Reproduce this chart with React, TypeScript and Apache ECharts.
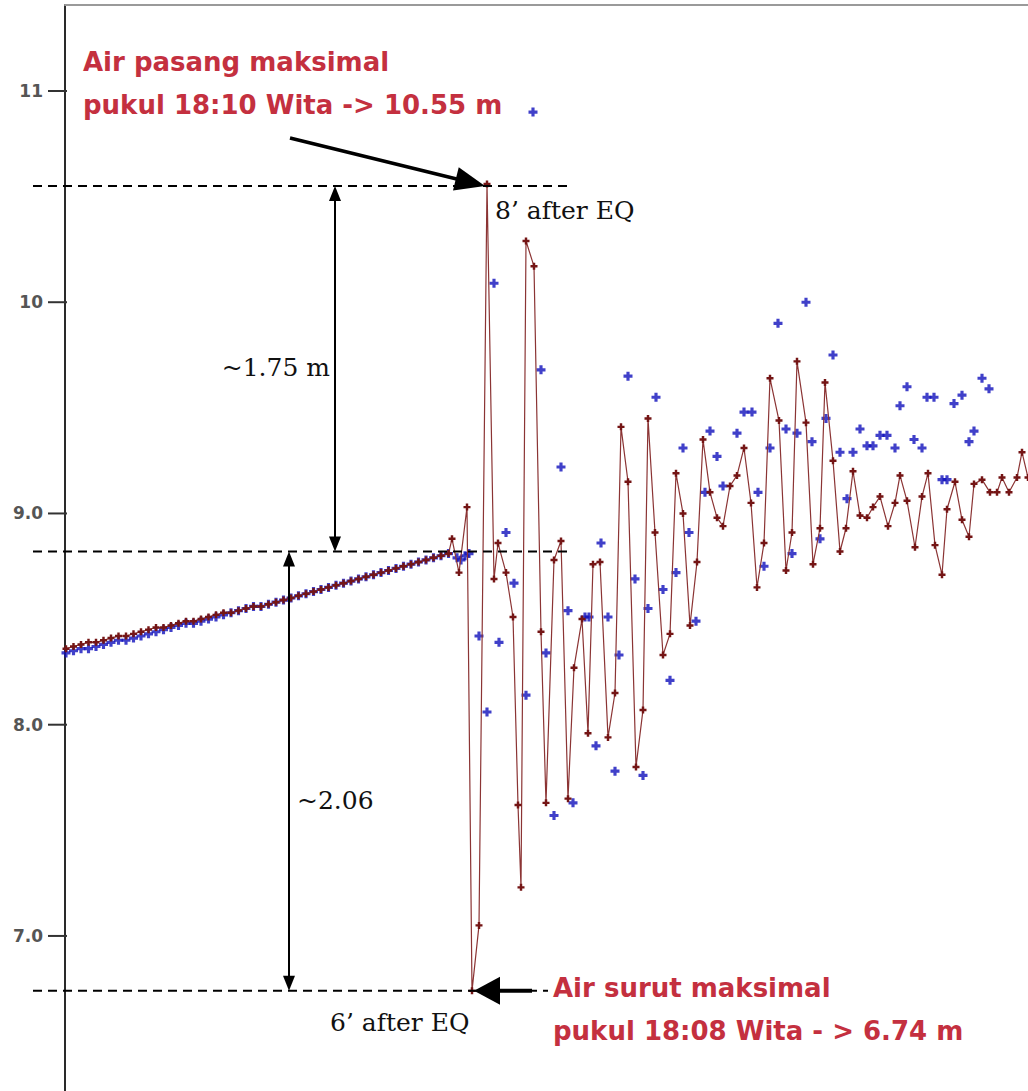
import React, { useEffect, useRef } from "react";
import * as echarts from "echarts";

// ---- axis ----
const yTickValues = [7, 8, 9, 10, 11];
const yTickLabels = ["7.0", "8.0", "9.0", "10", "11"];
const yMinValue = 6.266;
const yMaxValue = 11.407;
const xMinMinute = -76.2;
const xMaxMinute = 116.4;

// ---- data: minutes relative to the earthquake, water level (m) ----
const calmMinutes = [
  -76, -74.5, -73, -71.5, -70, -68.5, -67, -65.5, -64, -62.5,
  -61, -59.5, -58, -56.5, -55, -53.5, -52, -50.5, -49, -47.5,
  -46, -44.5, -43, -41.5, -40, -38.5, -37, -35.5, -34, -32.5,
  -31, -29.5, -28, -26.5, -25, -23.5, -22, -20.5, -19, -17.5,
  -16, -14.5, -13, -11.5, -10, -8.5, -7, -5.5, -4, -2.5,
  -1, 0.5,
];
const calmRed = [
  8.36, 8.37, 8.38, 8.39, 8.39, 8.40, 8.41, 8.42, 8.42, 8.43,
  8.44, 8.45, 8.46, 8.46, 8.47, 8.48, 8.49, 8.49, 8.50, 8.51,
  8.52, 8.53, 8.53, 8.54, 8.55, 8.56, 8.56, 8.57, 8.58, 8.59,
  8.60, 8.61, 8.62, 8.63, 8.64, 8.65, 8.66, 8.67, 8.68, 8.69,
  8.70, 8.71, 8.72, 8.73, 8.74, 8.75, 8.76, 8.77, 8.78, 8.79,
  8.80, 8.81,
];
const calmBlue = [
  8.34, 8.35, 8.36, 8.36, 8.37, 8.38, 8.39, 8.40, 8.40, 8.41,
  8.42, 8.43, 8.44, 8.45, 8.46, 8.47, 8.48, 8.48, 8.49, 8.50,
  8.51, 8.52, 8.53, 8.54, 8.55, 8.56, 8.56, 8.57, 8.58, 8.59,
  8.60, 8.61, 8.62, 8.63, 8.64, 8.65, 8.66, 8.67, 8.68, 8.69,
  8.70, 8.71, 8.72, 8.73, 8.74, 8.75, 8.76, 8.77, 8.78, 8.79,
  8.80, 8.81,
];

const burstRedMinutes = [
  1.2, 2.6, 4.2, 5.2, 6.6, 8.2, 9.6, 10.4, 12.0, 13.4,
  14.4, 15.0, 16.0, 17.6, 19.0, 20.0, 21.6, 23.0, 24.4, 25.6,
  27.2, 28.4, 29.4, 30.8, 32.4, 33.8, 35.0, 36.4, 38.0, 39.4,
  40.4, 41.8, 43.4, 44.8, 46.0, 47.4, 48.8, 50.2, 51.4, 52.8,
  54.2, 55.4, 56.8, 58.2, 59.6, 61.0, 62.2, 63.6, 64.8, 66.6,
  68.0, 69.2, 70.2, 72.0, 73.4, 74.8, 75.8, 77.4, 78.8, 80.0,
  81.4, 82.8, 84.2, 85.4, 86.8, 88.4, 89.8, 90.8, 92.2, 93.8,
  95.2, 96.4, 97.8, 99.2, 100.2, 101.8, 103.2, 104.6, 105.6, 107.2,
  108.8, 110.2, 111.2, 112.6, 114.2, 115.2, 116.4,
];
const burstRed = [
  8.88, 8.72, 9.03, 6.74, 7.05, 10.56, 8.69, 8.86, 8.72, 8.51,
  7.62, 7.23, 10.29, 10.17, 8.44, 7.63, 8.78, 8.87, 7.65, 8.27,
  8.50, 7.96, 8.76, 8.77, 7.94, 8.15, 9.41, 9.15, 7.80, 8.07,
  9.45, 8.91, 8.33, 8.43, 9.19, 9.00, 8.47, 8.77, 9.35, 9.10,
  8.98, 8.94, 9.13, 9.18, 9.31, 9.05, 8.65, 8.86, 9.64, 9.44,
  8.73, 8.91, 9.72, 9.43, 8.76, 8.93, 9.62, 9.25, 8.82, 8.93,
  9.20, 8.99, 8.98, 9.03, 9.08, 8.94, 9.05, 9.18, 9.06, 8.84,
  9.08, 9.19, 8.85, 8.71, 9.02, 9.15, 8.97, 8.89, 9.14, 9.16,
  9.10, 9.10, 9.17, 9.10, 9.17, 9.29, 9.17,
];

const burstBlueMinutes = [
  2.2, 3.0, 3.8, 4.6, 6.6, 8.2, 9.6, 10.6, 12.0, 13.6,
  16.0, 17.4, 19.0, 20.0, 21.6, 23.0, 24.4, 25.4, 27.8, 28.6,
  30.0, 31.0, 32.4, 33.8, 34.6, 36.4, 37.8, 39.4, 40.4, 42.0,
  43.4, 44.8, 46.0, 47.4, 48.6, 50.0, 51.8, 52.8, 54.2, 55.4,
  58.2, 59.6, 61.2, 62.4, 63.6, 64.8, 66.4, 68.0, 69.2, 70.2,
  72.0, 73.2, 74.8, 76.0, 77.4, 78.8, 80.2, 81.4, 82.8, 84.2,
  85.4, 86.8, 88.2, 89.8, 90.8, 92.2, 93.6, 95.2, 96.2, 97.6,
  99.2, 100.2, 101.6, 103.2, 104.6, 105.6, 107.2, 108.6,
];
const burstBlue = [
  8.79, 8.78, 8.80, 8.81, 8.42, 8.06, 10.09, 8.39, 8.91, 8.67,
  8.14, 10.90, 9.68, 8.34, 7.57, 9.22, 8.54, 7.63, 8.51, 8.51,
  7.90, 8.86, 8.51, 7.78, 8.33, 9.65, 8.69, 7.76, 8.55, 9.55,
  8.64, 8.21, 8.72, 9.31, 8.91, 8.49, 9.10, 9.39, 9.27, 9.13,
  9.38, 9.48, 9.48, 9.10, 8.75, 9.31, 9.90, 9.40, 8.81, 9.38,
  10.00, 9.34, 8.88, 9.45, 9.75, 9.29, 9.07, 9.29, 9.40, 9.32,
  9.32, 9.37, 9.37, 9.31, 9.51, 9.60, 9.35, 9.31, 9.55, 9.55,
  9.16, 9.16, 9.52, 9.56, 9.34, 9.39, 9.64, 9.59,
];

// ---- annotation values ----
const peakMinute = 8.2;
const peakLevel = 10.55;
const troughMinute = 5.2;
const troughLevel = 6.74;
const baseLevel = 8.82;
const highText = ["Air pasang maksimal", "pukul 18:10 Wita -> 10.55 m"];
const lowText = ["Air surut maksimal", "pukul 18:08 Wita - > 6.74 m"];
const riseText = "~1.75 m";
const dropText = "~2.06";
const peakNote = "8\u2019 after EQ";
const troughNote = "6\u2019 after EQ";

const GRID_LEFT = 65;
const PLUS = "path://M2.6,0H5.4V2.6H8V5.4H5.4V8H2.6V5.4H0V2.6H2.6Z";
const RED_TXT = "#c4303f";

function zip(a: number[], b: number[]) {
  return a.map((t, i) => [t, b[i]]);
}

function arrowHead(tipX: number, tipY: number, fromX: number, fromY: number, len: number, half: number) {
  const dx = tipX - fromX;
  const dy = tipY - fromY;
  const d = Math.sqrt(dx * dx + dy * dy);
  const ux = dx / d;
  const uy = dy / d;
  const bx = tipX - ux * len;
  const by = tipY - uy * len;
  return [
    [tipX, tipY],
    [bx - uy * half, by + ux * half],
    [bx + uy * half, by - ux * half],
  ];
}

export default function App() {
  const ref = useRef<HTMLDivElement>(null);
  useEffect(() => {
    if (!ref.current) return;
    const chart = echarts.init(ref.current, undefined, { renderer: "svg" });
    chart.setOption({
      animation: false,
      backgroundColor: "#ffffff",
      grid: { left: GRID_LEFT, top: 5, right: 0, bottom: 0, containLabel: false },
      xAxis: {
        type: "value",
        min: xMinMinute,
        max: xMaxMinute,
        position: "top",
        axisLine: { show: true, onZero: false, lineStyle: { color: "#9a9a9a", width: 2 } },
        axisTick: { show: false },
        axisLabel: { show: false },
        splitLine: { show: false },
      },
      yAxis: {
        type: "value",
        min: yMinValue,
        max: yMaxValue,
        position: "left",
        axisLine: { show: true, onZero: false, lineStyle: { color: "#2a2a2a", width: 2 } },
        axisTick: { show: false },
        axisLabel: {
          show: true,
          customValues: yTickValues.slice(),
          margin: 22,
          color: "#555",
          fontFamily: "DejaVu Sans",
          fontWeight: "bold",
          fontSize: 17,
          formatter: (v: number) => {
            const i = yTickValues.findIndex((t) => Math.abs(t - v) < 1e-6);
            return i >= 0 ? yTickLabels[i] : "";
          },
        },
        splitLine: { show: false },
      },
      series: [
        {
          type: "scatter",
          name: "blue",
          data: zip(calmMinutes.concat(burstBlueMinutes), calmBlue.concat(burstBlue)),
          symbol: PLUS,
          symbolSize: 9,
          itemStyle: { color: "#1010bb" },
          z: 2,
        },
        {
          type: "line",
          name: "red",
          data: zip(calmMinutes.concat(burstRedMinutes), calmRed.concat(burstRed)),
          symbol: PLUS,
          symbolSize: 7,
          showAllSymbol: true,
          itemStyle: { color: "#741515" },
          lineStyle: { color: "#8b3434", width: 1.2 },
          z: 3,
        },
      ],
    });

    const px = (t: number, v: number) => chart.convertToPixel({ gridIndex: 0 }, [t, v]) as number[];
    const yPeak = px(0, peakLevel)[1];
    const yBase = px(0, baseLevel)[1];
    const yTrough = px(0, troughLevel)[1];
    const xPeak = px(peakMinute, peakLevel)[0];
    const xTrough = px(troughMinute, troughLevel)[0];

    const g: any[] = [];
    const dash = { stroke: "#000", lineWidth: 2, lineDash: [9, 6] };
    const solid = { stroke: "#000", lineWidth: 2 };
    g.push({ type: "line", shape: { x1: 33, y1: yPeak, x2: 567, y2: yPeak }, style: dash, z: 10 });
    g.push({ type: "line", shape: { x1: 33, y1: yBase, x2: 567, y2: yBase }, style: dash, z: 10 });
    g.push({ type: "line", shape: { x1: 33, y1: yTrough, x2: 548, y2: yTrough }, style: dash, z: 10 });

    // y-axis tick marks (outside), reaching just across the axis line
    yTickLabels.forEach((lab) => {
      const ty = px(0, parseFloat(lab))[1];
      g.push({
        type: "line",
        shape: { x1: GRID_LEFT - 17, y1: ty, x2: GRID_LEFT + 2, y2: ty },
        style: { stroke: "#333333", lineWidth: 2 },
        z: 10,
      });
    });

    // double arrow 1
    const ax1 = 335;
    g.push({ type: "line", shape: { x1: ax1, y1: yPeak + 10, x2: ax1, y2: yBase - 10 }, style: solid, z: 10 });
    g.push({ type: "polygon", shape: { points: arrowHead(ax1, yPeak, ax1, yBase, 15, 6) }, style: { fill: "#000" }, z: 10 });
    g.push({ type: "polygon", shape: { points: arrowHead(ax1, yBase, ax1, yPeak, 15, 6) }, style: { fill: "#000" }, z: 10 });
    // double arrow 2
    const ax2 = 289;
    g.push({ type: "line", shape: { x1: ax2, y1: yBase + 10, x2: ax2, y2: yTrough - 10 }, style: solid, z: 10 });
    g.push({ type: "polygon", shape: { points: arrowHead(ax2, yBase, ax2, yTrough, 15, 6) }, style: { fill: "#000" }, z: 10 });
    g.push({ type: "polygon", shape: { points: arrowHead(ax2, yTrough, ax2, yBase, 15, 6) }, style: { fill: "#000" }, z: 10 });

    // diagonal arrow to peak
    const sx = 290, sy = 138;
    const tipX = xPeak - 2, tipY = yPeak;
    const head1 = arrowHead(tipX, tipY, sx, sy, 30, 12);
    const dd = Math.hypot(tipX - sx, tipY - sy);
    g.push({
      type: "line",
      shape: { x1: sx, y1: sy, x2: tipX - ((tipX - sx) / dd) * 25, y2: tipY - ((tipY - sy) / dd) * 25 },
      style: { stroke: "#000", lineWidth: 3.5 },
      z: 10,
    });
    g.push({ type: "polygon", shape: { points: head1 }, style: { fill: "#000" }, z: 10 });

    // arrow to trough
    const tx = xTrough + 2;
    g.push({ type: "line", shape: { x1: tx + 20, y1: yTrough, x2: tx + 58, y2: yTrough }, style: { stroke: "#000", lineWidth: 4 }, z: 10 });
    g.push({ type: "polygon", shape: { points: arrowHead(tx, yTrough, tx + 50, yTrough, 26, 14) }, style: { fill: "#000" }, z: 10 });

    const redFont = 'bold 26px "DejaVu Sans"';
    g.push({ type: "text", style: { text: highText[0], x: 83, y: 62, font: redFont, fill: RED_TXT, verticalAlign: "middle" }, z: 11 });
    g.push({ type: "text", style: { text: highText[1], x: 83, y: 105, font: redFont, fill: RED_TXT, verticalAlign: "middle" }, z: 11 });
    g.push({ type: "text", style: { text: lowText[0], x: 553, y: yTrough - 3, font: redFont, fill: RED_TXT, verticalAlign: "middle" }, z: 11 });
    g.push({ type: "text", style: { text: lowText[1], x: 553, y: yTrough + 40, font: redFont, fill: RED_TXT, verticalAlign: "middle" }, z: 11 });

    const serif = '25px "DejaVu Serif"';
    g.push({ type: "text", style: { text: riseText, x: 330, y: 367, font: serif, fill: "#111", align: "right", verticalAlign: "middle" }, z: 11 });
    g.push({ type: "text", style: { text: dropText, x: 297, y: 800, font: serif, fill: "#111", verticalAlign: "middle" }, z: 11 });
    g.push({ type: "text", style: { text: peakNote, x: 495, y: 210, font: serif, fill: "#111", verticalAlign: "middle" }, z: 11 });
    g.push({ type: "text", style: { text: troughNote, x: 330, y: 1022, font: serif, fill: "#111", verticalAlign: "middle" }, z: 11 });

    chart.setOption({ graphic: g });
    return () => chart.dispose();
  }, []);
  return <div ref={ref} style={{ position: "absolute", left: 0, top: 0, width: 1028, height: 1091 }} />;
}
